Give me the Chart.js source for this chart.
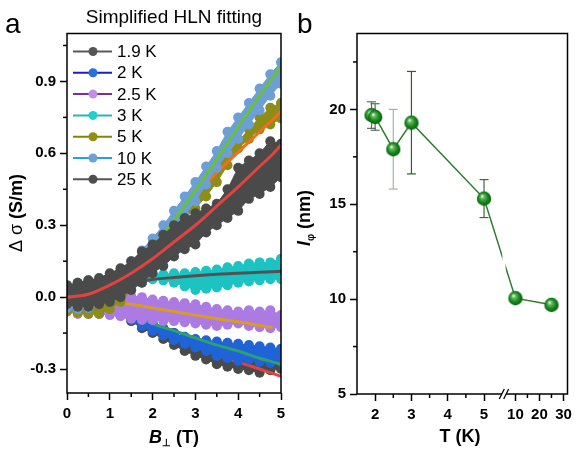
<!DOCTYPE html>
<html>
<head>
<meta charset="utf-8">
<script src="https://cdn.jsdelivr.net/npm/chart.js@4.4.0/dist/chart.umd.min.js"></script>
<style>
  html, body { margin: 0; padding: 0; background: #fff; }
  #wrap { position: relative; width: 576px; height: 453px; overflow: hidden; }
  #chartA { position: absolute; left: 0; top: 0; }
  #chartB { position: absolute; left: 290px; top: 0; }
</style>
</head>
<body>
<div id="wrap">
  <canvas id="chartA" width="290" height="453"></canvas>
  <canvas id="chartB" width="286" height="453"></canvas>
</div>
<script>
// ---- panel a: magnetoconductance, upper / lower edge of each scatter cloud
const fieldB = [0, 0.25, 0.5, 0.75, 1, 1.25, 1.5, 1.75, 2, 2.25, 2.5, 2.75, 3, 3.25, 3.5, 3.75, 4, 4.25, 4.5, 4.75, 5];

const hi1p9K = [0.0, -0.01, -0.02, -0.02, -0.03, -0.045, -0.065, -0.09, -0.11, -0.13, -0.15, -0.17, -0.19, -0.205, -0.22, -0.235, -0.25, -0.26, -0.27, -0.275, -0.28];
const lo1p9K = [-0.04, -0.05, -0.055, -0.06, -0.065, -0.075, -0.1, -0.13, -0.15, -0.175, -0.2, -0.225, -0.245, -0.26, -0.28, -0.29, -0.3, -0.305, -0.315, -0.305, -0.3];
const hi2K = [0.01, 0.0, -0.01, -0.02, -0.03, -0.05, -0.07, -0.09, -0.11, -0.13, -0.15, -0.165, -0.175, -0.18, -0.185, -0.19, -0.195, -0.2, -0.205, -0.21, -0.215];
const lo2K = [-0.04, -0.045, -0.05, -0.055, -0.06, -0.075, -0.095, -0.12, -0.14, -0.16, -0.18, -0.195, -0.21, -0.225, -0.245, -0.255, -0.265, -0.26, -0.27, -0.275, -0.27];
const hi2p5K = [0.0, -0.01, -0.01, -0.005, 0.0, 0.005, 0.005, 0.0, -0.01, -0.015, -0.02, -0.025, -0.03, -0.04, -0.05, -0.055, -0.06, -0.055, -0.06, -0.055, -0.075];
const lo2p5K = [-0.06, -0.07, -0.07, -0.07, -0.075, -0.08, -0.09, -0.095, -0.095, -0.1, -0.1, -0.105, -0.11, -0.115, -0.12, -0.115, -0.11, -0.12, -0.125, -0.13, -0.125];
const hi3K = [0.04, 0.06, 0.07, 0.075, 0.08, 0.085, 0.09, 0.095, 0.095, 0.095, 0.1, 0.1, 0.105, 0.11, 0.115, 0.125, 0.13, 0.14, 0.145, 0.145, 0.16];
const lo3K = [-0.03, -0.01, 0.01, 0.02, 0.03, 0.04, 0.05, 0.06, 0.075, 0.07, 0.06, 0.045, 0.03, 0.035, 0.04, 0.05, 0.06, 0.065, 0.07, 0.075, 0.075];
const hi5K = [0.0, -0.01, -0.01, 0.0, 0.02, 0.05, 0.1, 0.15, 0.2, 0.25, 0.3, 0.36, 0.42, 0.48, 0.54, 0.6, 0.65, 0.7, 0.75, 0.79, 0.81];
const lo5K = [-0.06, -0.065, -0.07, -0.07, -0.05, -0.02, 0.03, 0.09, 0.15, 0.21, 0.27, 0.33, 0.37, 0.42, 0.48, 0.55, 0.62, 0.66, 0.7, 0.72, 0.745];
const hi10K = [0.0, -0.005, 0.0, 0.03, 0.07, 0.11, 0.15, 0.195, 0.245, 0.3, 0.36, 0.42, 0.48, 0.545, 0.61, 0.69, 0.75, 0.81, 0.87, 0.93, 0.98];
const lo10K = [-0.045, -0.05, -0.045, -0.03, -0.01, 0.02, 0.06, 0.1, 0.15, 0.21, 0.28, 0.34, 0.4, 0.47, 0.54, 0.6, 0.66, 0.72, 0.78, 0.84, 0.89];
const hi25K = [0.05, 0.06, 0.07, 0.08, 0.1, 0.12, 0.15, 0.19, 0.22, 0.26, 0.3, 0.33, 0.35, 0.37, 0.39, 0.45, 0.54, 0.57, 0.6, 0.65, 0.64];
const lo25K = [-0.03, -0.04, -0.04, -0.03, -0.02, 0.0, 0.03, 0.06, 0.1, 0.13, 0.17, 0.2, 0.22, 0.27, 0.3, 0.33, 0.36, 0.41, 0.43, 0.46, 0.5];

// HLN fit curves
const fitB = [0, 0.5, 1, 1.5, 2, 2.5, 3, 3.5, 4, 4.5, 4.8, 5];
const fit1p9K = [0, -0.01, -0.035, -0.085, -0.13, -0.17, -0.205, -0.24, -0.27, -0.3, -0.318, -0.33];
const fit2K = [0, -0.01, -0.03, -0.07, -0.11, -0.14, -0.17, -0.2, -0.225, -0.255, -0.27, -0.28];
const fit2p5K = [0, -0.005, -0.017, -0.03, -0.045, -0.06, -0.075, -0.09, -0.103, -0.118, -0.127, null];
const fit3K = [0, 0.02, 0.045, 0.062, 0.074, 0.082, 0.089, 0.095, 0.1, 0.104, 0.106, 0.108];
const fit5K = [0, 0.02, 0.07, 0.145, 0.235, 0.33, 0.425, 0.52, 0.605, 0.69, 0.74, 0.775];
const fit10K = [0, 0.01, 0.045, 0.11, 0.205, 0.32, 0.445, 0.575, 0.71, 0.84, 0.915, 0.965];
const fit25K = [0, 0.012, 0.05, 0.1, 0.16, 0.23, 0.3, 0.38, 0.46, 0.545, 0.595, 0.635];

const xTicksA = [0, 1, 2, 3, 4, 5];
const xMinorA = [0.5, 1.5, 2.5, 3.5, 4.5];
const yTicksA = [-0.3, 0, 0.3, 0.6, 0.9];
const yMinorA = [-0.15, 0.15, 0.45, 0.75, 1.05];

// ---- panel b: phase coherence length
const tempK = [1.9, 2, 2.5, 3, 5, 10, 25];
const lphi = [19.7, 19.6, 17.9, 19.3, 15.3, 10.05, 9.7];
const lphiErr = [0.7, 0.7, 2.1, 2.7, 1.0, 0, 0];

const xTicksB = [2, 3, 4, 5, 10, 20, 30];
const xMinorB = [2.5, 3.5, 4.5, 15, 25];
const yTicksB = [5, 10, 15, 20];
const yMinorB = [7.5, 12.5, 17.5, 22.5];

const FONT = '"Liberation Sans", Arial, Helvetica, sans-serif';
Chart.defaults.font.family = FONT;
Chart.defaults.color = '#000';
Chart.defaults.animation = false;

const series = [
  { label: '1.9 K', hi: hi1p9K, lo: lo1p9K, fit: fit1p9K, color: '#4a4a4a', legLine: '#5a5a5a', legDot: '#555555', fitColor: '#e04440' },
  { label: '2 K', hi: hi2K, lo: lo2K, fit: fit2K, color: '#1f63d8', legLine: '#1c1ccc', legDot: '#2a70dc', fitColor: '#2f9f72' },
  { label: '2.5 K', hi: hi2p5K, lo: lo2p5K, fit: fit2p5K, color: '#ab7be3', legLine: '#7a2d9c', legDot: '#c48ee8', fitColor: '#d99b24' },
  { label: '3 K', hi: hi3K, lo: lo3K, fit: fit3K, color: '#1cc3c3', legLine: '#2ab5b5', legDot: '#1fcfcf', fitColor: '#525252' },
  { label: '5 K', hi: hi5K, lo: lo5K, fit: fit5K, color: '#8d8d18', legLine: '#858500', legDot: '#8f8f10', fitColor: '#f26e1d' },
  { label: '10 K', hi: hi10K, lo: lo10K, fit: fit10K, color: '#6c9fd6', legLine: '#2a9ee4', legDot: '#6f9fd3', fitColor: '#6abf3c' },
  { label: '25 K', hi: hi25K, lo: lo25K, fit: fit25K, color: '#4a4a4a', legLine: '#555555', legDot: '#4f4f4f', fitColor: '#e04440' }
];

const pts = (xs, ys) => xs.map((x, i) => ({ x: x, y: ys[i] }));

// each temperature sits above the previous one, its fit just above its own data
const datasetsA = [];
series.forEach((s, i) => {
  const rank = (series.length - 1 - i) * 2;
  datasetsA.push({
    data: pts(fitB, s.fit), borderColor: s.fitColor, borderWidth: 3,
    pointRadius: 0, cubicInterpolationMode: 'monotone', fill: false, order: rank
  });
  datasetsA.push({
    data: pts(fieldB, s.hi), borderColor: s.color, backgroundColor: s.color, borderWidth: 1,
    pointRadius: 5, pointBackgroundColor: s.color, pointBorderWidth: 0, fill: '+1', order: rank + 1
  });
  datasetsA.push({
    data: pts(fieldB, s.lo), borderColor: s.color, backgroundColor: s.color, borderWidth: 1,
    pointRadius: 5, pointBackgroundColor: s.color, pointBorderWidth: 0, fill: false, order: rank + 1
  });
});

function richText(ctx, parts, cx, cy, angle) {
  ctx.save();
  ctx.translate(cx, cy);
  ctx.rotate(angle || 0);
  ctx.fillStyle = '#000';
  ctx.textBaseline = 'alphabetic';
  ctx.textAlign = 'left';
  let w = 0;
  parts.forEach(p => { ctx.font = p.f + ' ' + FONT; w += ctx.measureText(p.t).width; });
  let x = -w / 2;
  parts.forEach(p => {
    ctx.font = p.f + ' ' + FONT;
    ctx.fillText(p.t, x, p.dy || 0);
    x += ctx.measureText(p.t).width;
  });
  ctx.restore();
}

function seg(ctx, x1, y1, x2, y2) {
  ctx.beginPath(); ctx.moveTo(x1, y1); ctx.lineTo(x2, y2); ctx.stroke();
}

// frame + minor ticks, shared by both panels
const framePlugin = {
  id: 'frame',
  afterDraw(chart, args, opts) {
    const { ctx, chartArea: a } = chart;
    const xs = chart.scales.x, ys = chart.scales.y;
    ctx.save();
    ctx.strokeStyle = '#000';
    ctx.lineWidth = 1.5;
    ctx.strokeRect(a.left, a.top, a.right - a.left, a.bottom - a.top);
    opts.xMinor.forEach(v => {
      const px = xs.getPixelForValue(opts.xMap ? opts.xMap(v) : v);
      seg(ctx, px, a.bottom, px, a.bottom + 4);
    });
    opts.yMinor.forEach(v => {
      const py = ys.getPixelForValue(v);
      seg(ctx, a.left - 4, py, a.left, py);
    });
    ctx.restore();
  }
};

const panelA = {
  id: 'panelA',
  afterDraw(chart) {
    const { ctx, chartArea: a } = chart;
    ctx.save();
    ctx.fillStyle = '#000';
    ctx.textAlign = 'left';
    ctx.font = '28px ' + FONT;
    ctx.fillText('a', 5, 33);
    ctx.textAlign = 'center';
    ctx.font = '19px ' + FONT;
    ctx.fillText('Simplified HLN fitting', (a.left + a.right) / 2, 23);
    // legend
    series.forEach((s, i) => {
      const y = a.top + 18 + i * 21.3;
      ctx.strokeStyle = s.legLine;
      ctx.lineWidth = 2;
      seg(ctx, a.left + 6, y, a.left + 45, y);
      ctx.fillStyle = s.legDot;
      ctx.beginPath(); ctx.arc(a.left + 26, y, 4.5, 0, Math.PI * 2); ctx.fill();
      ctx.fillStyle = '#000';
      ctx.font = '17px ' + FONT;
      ctx.textAlign = 'left';
      ctx.textBaseline = 'middle';
      ctx.fillText(s.label, a.left + 50, y + 1);
    });
    ctx.restore();
    richText(ctx, [{ t: 'B', f: 'italic bold 18px' }, { t: '\u22a5', f: 'bold 10px', dy: 3 }, { t: ' (T)', f: 'bold 18px' }],
      (a.left + a.right) / 2, 443, 0);
    richText(ctx, [{ t: '\u0394 \u03c3 ', f: '18px' }, { t: '(S/m)', f: 'bold 18px' }], 22, 213, -Math.PI / 2);
  }
};

new Chart(document.getElementById('chartA'), {
  type: 'line',
  data: { datasets: datasetsA },
  plugins: [framePlugin, panelA],
  options: {
    responsive: false,
    layout: { padding: { left: 0, right: 9, top: 33.5, bottom: 0 } },
    plugins: {
      legend: { display: false },
      tooltip: { enabled: false },
      frame: { xMinor: xMinorA, yMinor: yMinorA }
    },
    scales: {
      x: {
        type: 'linear', min: 0, max: 5,
        afterBuildTicks: s => { s.ticks = xTicksA.map(v => ({ value: v })); },
        afterFit: s => { s.height = 60; s.paddingLeft = 0; s.paddingRight = 0; },
        ticks: { autoSkip: false, maxRotation: 0, padding: 5, font: { size: 15, weight: 'bold' }, callback: v => String(v) },
        grid: { drawOnChartArea: false, tickLength: 7, tickWidth: 1.5, tickColor: '#000' },
        border: { display: false }
      },
      y: {
        type: 'linear', min: -0.4, max: 1.1,
        afterBuildTicks: s => { s.ticks = yTicksA.map(v => ({ value: v })); },
        afterFit: s => { s.width = 67; s.paddingTop = 0; s.paddingBottom = 0; },
        ticks: { autoSkip: false, padding: 4, font: { size: 15, weight: 'bold' }, callback: v => v.toFixed(1) },
        grid: { drawOnChartArea: false, tickLength: 7, tickWidth: 1.5, tickColor: '#000' },
        border: { display: false }
      }
    }
  }
});

// ---- panel b: broken T axis, 1.5-5.5 K linear, 10-30 K compressed after the break
const BREAK_AT = 5.55;
const toAxis = t => (t <= BREAK_AT ? t : 5.865 + (t - 10) * 0.0662);

const sphere = (() => {
  const c = document.createElement('canvas');
  c.width = 16; c.height = 16;
  const g = c.getContext('2d');
  const grad = g.createRadialGradient(6, 5.5, 0.4, 8, 8, 8);
  grad.addColorStop(0, '#eaf7e6');
  grad.addColorStop(0.22, '#62b85a');
  grad.addColorStop(0.6, '#15861c');
  grad.addColorStop(1, '#0a5510');
  g.fillStyle = grad;
  g.beginPath(); g.arc(8, 8, 7.2, 0, Math.PI * 2); g.fill();
  return c;
})();

const errColors = ['#5b6e5b', '#5b6e5b', '#a3b4a3', '#2f5f2f', '#3b6b3b', '#3b6b3b', '#3b6b3b'];

const panelB = {
  id: 'panelB',
  beforeDatasetsDraw(chart) {
    const { ctx } = chart;
    const xs = chart.scales.x, ys = chart.scales.y;
    ctx.save();
    ctx.lineWidth = 1.2;
    tempK.forEach((t, i) => {
      if (!lphiErr[i]) return;
      const px = xs.getPixelForValue(toAxis(t));
      const y1 = ys.getPixelForValue(lphi[i] + lphiErr[i]);
      const y2 = ys.getPixelForValue(lphi[i] - lphiErr[i]);
      ctx.strokeStyle = errColors[i];
      seg(ctx, px, y1, px, y2);
      seg(ctx, px - 4.5, y1, px + 4.5, y1);
      seg(ctx, px - 4.5, y2, px + 4.5, y2);
    });
    ctx.restore();
  },
  afterDatasetsDraw(chart) {
    const { ctx, chartArea: a } = chart;
    const bx = chart.scales.x.getPixelForValue(BREAK_AT);
    ctx.save();
    ctx.fillStyle = '#fff';
    ctx.fillRect(bx - 1.6, a.top + 3, 3.2, a.bottom - a.top - 6);
    ctx.restore();
  },
  afterDraw(chart) {
    const { ctx, chartArea: a } = chart;
    const bx = chart.scales.x.getPixelForValue(BREAK_AT);
    ctx.save();
    ctx.fillStyle = '#fff';
    ctx.fillRect(bx - 2, a.bottom - 2, 4, 4);
    ctx.strokeStyle = '#000';
    ctx.lineWidth = 1.3;
    [-2.2, 2.2].forEach(d => seg(ctx, bx + d - 2.5, a.bottom + 5, bx + d + 2.5, a.bottom - 5));
    ctx.fillStyle = '#000';
    ctx.textAlign = 'left';
    ctx.font = '28px ' + FONT;
    ctx.fillText('b', 7, 33);
    ctx.restore();
    richText(ctx, [{ t: 'T (K)', f: 'bold 18px' }], 170, 442, 0);
    richText(ctx, [{ t: 'l', f: 'italic bold 18px' }, { t: '\u03c6', f: 'bold 10px', dy: 4 }, { t: ' (nm)', f: 'bold 18px' }],
      20, 218, -Math.PI / 2);
  }
};

new Chart(document.getElementById('chartB'), {
  type: 'line',
  data: {
    datasets: [{
      data: tempK.map((t, i) => ({ x: toAxis(t), y: lphi[i] })),
      borderColor: '#2e7b2e', borderWidth: 1.5, tension: 0, fill: false,
      pointStyle: sphere, pointRadius: 7
    }]
  },
  plugins: [framePlugin, panelB],
  options: {
    responsive: false,
    layout: { padding: { left: 0, right: 4, top: 33.5, bottom: 0 } },
    plugins: {
      legend: { display: false },
      tooltip: { enabled: false },
      frame: { xMinor: xMinorB, yMinor: yMinorB, xMap: toAxis }
    },
    scales: {
      x: {
        type: 'linear', min: 1.5, max: 7.3,
        afterBuildTicks: s => { s.ticks = xTicksB.map(t => ({ value: toAxis(t) })); },
        afterFit: s => { s.height = 59; s.paddingLeft = 0; s.paddingRight = 0; },
        ticks: { autoSkip: false, maxRotation: 0, padding: 5, font: { size: 15, weight: 'bold' }, callback: (v, i) => String(xTicksB[i]) },
        grid: { drawOnChartArea: false, tickLength: 7, tickWidth: 1.5, tickColor: '#000' },
        border: { display: false }
      },
      y: {
        type: 'linear', min: 5, max: 24,
        afterBuildTicks: s => { s.ticks = yTicksB.map(v => ({ value: v })); },
        afterFit: s => { s.width = 67; s.paddingTop = 0; s.paddingBottom = 0; },
        ticks: { autoSkip: false, padding: 4, font: { size: 15, weight: 'bold' }, callback: v => String(v) },
        grid: { drawOnChartArea: false, tickLength: 7, tickWidth: 1.5, tickColor: '#000' },
        border: { display: false }
      }
    }
  }
});
</script>
</body>
</html>
